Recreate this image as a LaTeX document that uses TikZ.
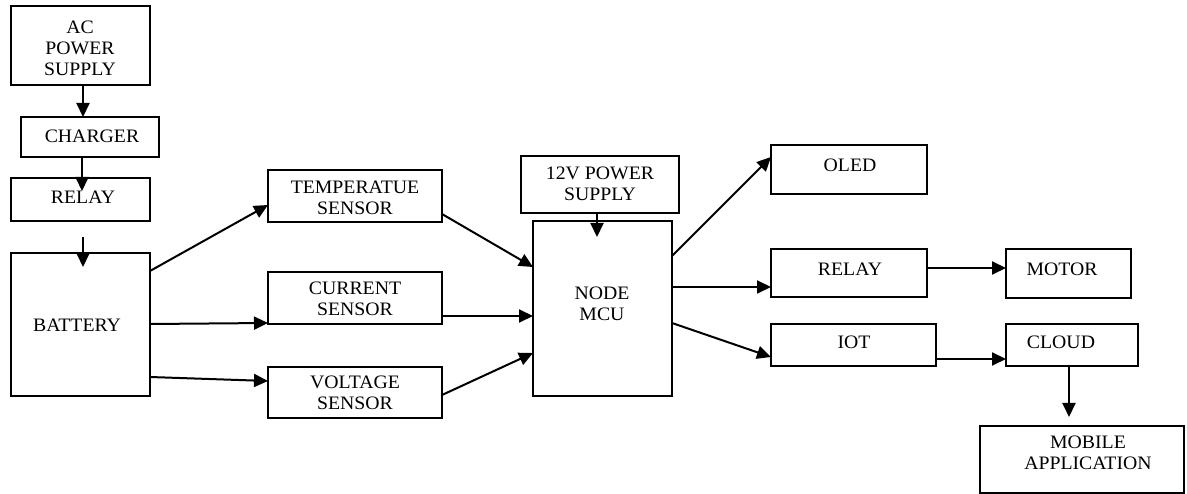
\documentclass[tikz,border=0pt]{standalone}
\usepackage{fontspec}
\setmainfont{Liberation Serif}[FakeStretch=1.04]
\usetikzlibrary{arrows.meta}
\begin{document}
\begin{tikzpicture}[x=1pt,y=-1pt,
  box/.style={draw,line width=1.6pt,inner sep=0pt,outer sep=0pt},
  txt/.style={inner sep=0pt,align=center,font=\fontsize{19}{21}\selectfont},
  arr/.style={line width=2pt,-{Triangle[length=14pt,width=13pt]}}]
\useasboundingbox (0,0) rectangle (1187,494);
% boxes
\node[box,minimum width=139pt,minimum height=79pt]  (ac)  at (80.5,45.5) {};
\node[box,minimum width=138pt,minimum height=40pt]  (chg) at (90,137) {};
\node[box,minimum width=139pt,minimum height=43pt]  (rl1) at (80.5,199.5) {};
\node[box,minimum width=139pt,minimum height=143pt] (bat) at (80.5,324.5) {};
\node[box,minimum width=174pt,minimum height=52pt]  (tmp) at (355,196) {};
\node[box,minimum width=174pt,minimum height=52pt]  (cur) at (355,298) {};
\node[box,minimum width=174pt,minimum height=51pt]  (vol) at (355,392.5) {};
\node[box,minimum width=158pt,minimum height=57pt]  (psu) at (600,184.5) {};
\node[box,minimum width=139pt,minimum height=175pt] (mcu) at (602.5,308.5) {};
\node[box,minimum width=156pt,minimum height=49pt]  (oled) at (849,169.5) {};
\node[box,minimum width=156pt,minimum height=48pt]  (rl2) at (849,273) {};
\node[box,minimum width=125pt,minimum height=49pt]  (mot) at (1068.5,273.5) {};
\node[box,minimum width=165pt,minimum height=42pt]  (iot) at (853.5,345) {};
\node[box,minimum width=132pt,minimum height=42pt]  (cld) at (1072,345) {};
\node[box,minimum width=204pt,minimum height=67pt]  (mob) at (1082,459.5) {};
% texts
\node[txt] (acT)   at (80,48)    {AC\\POWER\\SUPPLY};
\node[txt] (chgT)  at (92,136)   {CHARGER};
\node[txt] (rl1T)  at (83,197)   {RELAY};
\node[txt] (batT)  at (77,325)   {BATTERY};
\node[txt] (tmpT)  at (355,198)  {TEMPERATUE\\SENSOR};
\node[txt] (curT)  at (355,298.5){CURRENT\\SENSOR};
\node[txt] (volT)  at (355,393)  {VOLTAGE\\SENSOR};
\node[txt] (psuT)  at (600,183.5){12V POWER\\SUPPLY};
\node[txt] (mcuT)  at (602,303.5){NODE\\MCU};
\node[txt] (oledT) at (850,165)  {OLED};
\node[txt] (rl2T)  at (850,269)  {RELAY};
\node[txt] (motT)  at (1062,269) {MOTOR};
\node[txt] (iotT)  at (854,342)  {IOT};
\node[txt] (cldT)  at (1061,342) {CLOUD};
\node[txt] (mobT)  at (1088,452.5){MOBILE\\APPLICATION};
% connectors
\draw[arr] ([xshift=2.5pt]ac.south) -- ([xshift=2.5pt]chg.north -| ac.south);
\draw[arr] ([xshift=-8pt]chg.south) -- ([xshift=1.5pt,yshift=-13pt]rl1.north);
\draw[arr] ([xshift=2.5pt,yshift=-16pt]rl1.south) -- ([xshift=2.5pt,yshift=-14pt]bat.north);
\draw[arr] ([yshift=-18pt]bat.north east) -- ([yshift=17pt]tmp.south west);
\draw[arr] ([yshift=0.5pt]bat.east) -- ([yshift=1pt]cur.south west);
\draw[arr] ([yshift=-124pt]bat.north east) -- ([yshift=11.5pt]vol.west);
\draw[arr] ([yshift=8pt]tmp.south east) -- ([yshift=-46pt]mcu.north west);
\draw[arr] ([yshift=8pt]cur.south east) -- ([yshift=-95pt]mcu.north west);
\draw[arr] ([yshift=-28pt]vol.north east) -- ([yshift=-132pt]mcu.north west);
\draw[arr] ([xshift=-3pt]psu.south) -- ([xshift=-5.5pt,yshift=-16pt]mcu.north);
\draw[arr] ([yshift=-35pt]mcu.north east) -- ([yshift=-12pt]oled.north west);
\draw[arr] ([yshift=-66pt]mcu.north east) -- ([yshift=-38pt]rl2.north west);
\draw[arr] ([yshift=-102pt]mcu.north east) -- ([yshift=-33pt]iot.north west);
\draw[arr] ([yshift=-19pt]rl2.north east) -- ([yshift=-19pt]mot.north west);
\draw[arr] ([yshift=7pt]iot.south east) -- ([yshift=7pt]cld.south west);
\draw[arr] ([xshift=-3pt]cld.south) -- ([xshift=-13pt,yshift=9pt]mob.north);
\end{tikzpicture}
\end{document}
